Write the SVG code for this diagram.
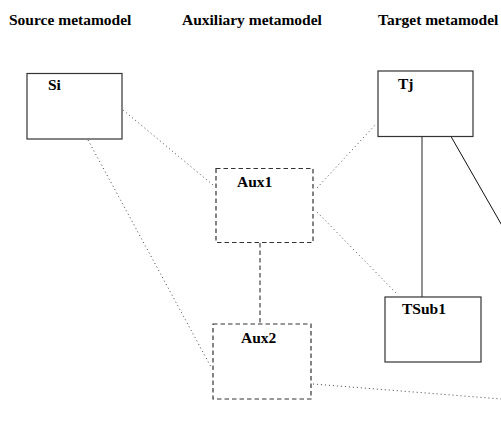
<svg xmlns="http://www.w3.org/2000/svg" width="501" height="443" viewBox="0 0 501 443">
<style>
text{font-family:"Liberation Serif","Times New Roman",serif;font-weight:bold;font-size:15.5px;fill:#000}
.box{fill:#fff;stroke:#333;stroke-width:1.2}
.aux{fill:#fff;stroke:#333;stroke-width:1.2;stroke-dasharray:4.5 3}
.dot{fill:none;stroke:#444;stroke-width:1;stroke-dasharray:1 3}
.dash{fill:none;stroke:#444;stroke-width:1.2;stroke-dasharray:4.5 3}
.solid{fill:none;stroke:#555;stroke-width:1.3}
.solidb{fill:none;stroke:#111;stroke-width:1}
</style>
<rect width="501" height="443" fill="#fff"/>
<g id="headers">
<text x="9" y="25">Source metamodel</text>
<text x="182" y="25">Auxiliary metamodel</text>
<text x="378" y="25">Target metamodel</text>
</g>
<g id="connectors">
<line class="dot" x1="123" y1="110" x2="213" y2="185"/>
<line class="dot" x1="88" y1="140" x2="211" y2="367"/>
<line class="dot" x1="317" y1="188" x2="376" y2="124"/>
<line class="dot" x1="317" y1="212" x2="398" y2="295"/>
<line class="dash" x1="260" y1="243" x2="260" y2="324"/>
<line class="solid" x1="422" y1="136" x2="422" y2="297"/>
<line class="solidb" x1="451" y1="136.5" x2="520" y2="257"/>
<line class="dot" x1="313" y1="384" x2="520" y2="400.5"/>
</g>
<g id="Si">
<rect class="box" x="27" y="73.5" width="95" height="65.5"/>
<text x="48" y="90">Si</text>
</g>
<g id="Tj">
<rect class="box" x="378" y="71" width="95" height="65.5"/>
<text x="398" y="89">Tj</text>
</g>
<g id="Aux1">
<rect class="aux" x="216" y="168.5" width="97" height="74"/>
<text x="237" y="187">Aux1</text>
</g>
<g id="Aux2">
<rect class="aux" x="213" y="324" width="98" height="75"/>
<text x="241" y="343">Aux2</text>
</g>
<g id="TSub1">
<rect class="box" x="385" y="297" width="96" height="65"/>
<text x="402" y="314">TSub1</text>
</g>
</svg>
